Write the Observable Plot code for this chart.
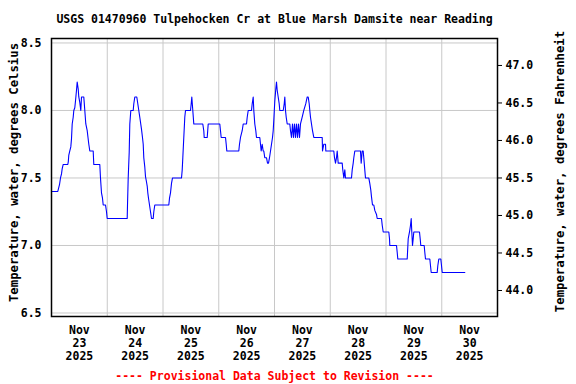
<!DOCTYPE html>
<html>
<head>
<meta charset="utf-8">
<script src="https://cdn.jsdelivr.net/npm/d3@7"></script>
<script src="https://cdn.jsdelivr.net/npm/@observablehq/plot@0.6"></script>
<style>
  html, body { margin: 0; padding: 0; background: white; }
</style>
</head>
<body>
<div id="chart"></div>
<script>
const titleText = "USGS 01470960 Tulpehocken Cr at Blue Marsh Damsite near Reading";
const footerText = "---- Provisional Data Subject to Revision ----";
const leftTitle = "Temperature, water, degrees Celsius";
const rightTitle = "Temperature, water, degrees Fahrenheit";

const tickMonth = "Nov";
const tickYear = "2025";
const tickDays = [23, 24, 25, 26, 27, 28, 29, 30];
const celsiusTicks = [6.5, 7.0, 7.5, 8.0, 8.5];
const fahrenheitTicks = [44.0, 44.5, 45.0, 45.5, 46.0, 46.5, 47.0];

// hours since 2025-11-23 00:00
const hours = [
  0, 2.71, 3.44, 3.87, 4.31, 4.61, 5.04, 7.02,
  7.23, 7.45, 7.88, 8.31, 8.61, 8.91, 9.34, 9.60,
  10.03, 10.33, 10.76, 11.06, 11.49, 11.75, 12.18, 12.61,
  12.92, 13.90, 14.08, 14.34, 14.77, 15.37, 16.06, 16.49,
  17.95, 18.21, 20.79, 21.09, 21.52, 21.95, 22.26, 23.25,
  23.68, 23.98, 32.59, 32.72, 33.02, 33.45, 33.71, 34.14,
  35.17, 35.43, 35.86, 36.72, 37.15, 37.58, 38.01, 38.75,
  39.17, 39.48, 39.73, 40.17, 40.47, 40.90, 41.20, 41.46,
  41.76, 42.19, 42.62, 43.05, 43.78, 44.04, 44.47, 50.50,
  50.80, 51.23, 51.66, 52.09, 55.97, 56.27, 56.53, 56.95,
  57.38, 57.69, 59.84, 60.14, 60.40, 60.83, 61.26, 65.13,
  65.56, 65.74, 67.03, 67.46, 72.45, 72.75, 73.05, 74.91,
  75.21, 75.47, 80.63, 80.93, 81.36, 82.09, 82.53, 83.95,
  84.25, 84.68, 86.10, 86.40, 86.83, 87.09, 87.52, 87.95,
  88.25, 89.67, 89.97, 90.27, 90.70, 91.13, 91.39, 91.82,
  92.55, 92.99, 93.42, 93.85, 94.28, 94.71, 95.14, 95.44,
  95.70, 96.13, 96.56, 96.86, 97.16, 97.59, 98.02, 98.28,
  99.75, 100.18, 100.44, 100.74, 101.04, 101.47, 102.59, 102.89,
  103.32, 103.75, 104.18, 104.61, 105.04, 105.47, 105.90, 106.33,
  106.76, 107.19, 107.92, 108.61, 109.47, 110.08, 110.51, 110.94,
  111.20, 111.50, 111.93, 112.36, 112.92, 116.54, 116.67, 117.23,
  117.96, 118.09, 121.53, 121.83, 122.26, 122.69, 122.99, 123.42,
  125.14, 125.40, 125.84, 126.27, 126.57, 129.15, 129.45, 129.88,
  130.14, 130.57, 133.02, 133.32, 133.75, 134.18, 134.44, 134.87,
  135.17, 136.59, 137.02, 137.46, 137.76, 138.19, 138.75, 139.18,
  139.91, 140.21, 142.06, 142.37, 142.80, 145.21, 145.51, 145.64,
  148.52, 148.82, 149.08, 153.13, 153.56, 154.12, 154.55, 154.85,
  155.11, 155.41, 155.71, 155.97, 158.42, 158.72, 158.98, 160.44,
  160.70, 161.00, 162.86, 163.16, 163.46, 166.04, 166.30, 166.73,
  167.59, 167.90, 168.20, 177.93
];

// water temperature, degrees Celsius
const tempC = [
  7.40, 7.40, 7.45, 7.50, 7.53, 7.57, 7.60, 7.60,
  7.62, 7.67, 7.70, 7.73, 7.79, 7.90, 7.95, 8.00,
  8.02, 8.07, 8.15, 8.21, 8.16, 8.10, 8.06, 8.00,
  8.10, 8.10, 8.06, 8.00, 7.90, 7.85, 7.75, 7.70,
  7.70, 7.60, 7.60, 7.50, 7.39, 7.35, 7.30, 7.30,
  7.25, 7.20, 7.20, 7.30, 7.50, 7.69, 7.90, 8.00,
  8.00, 8.05, 8.10, 8.10, 8.05, 8.00, 7.95, 7.86,
  7.80, 7.75, 7.65, 7.58, 7.51, 7.47, 7.44, 7.39,
  7.35, 7.30, 7.25, 7.20, 7.20, 7.25, 7.30, 7.30,
  7.35, 7.39, 7.46, 7.50, 7.50, 7.56, 7.65, 7.80,
  7.95, 8.00, 8.00, 8.05, 8.10, 8.00, 7.90, 7.90,
  7.85, 7.80, 7.80, 7.90, 7.90, 7.85, 7.80, 7.80,
  7.75, 7.70, 7.70, 7.75, 7.80, 7.85, 7.90, 7.90,
  7.95, 8.00, 8.00, 8.05, 8.10, 8.00, 7.90, 7.85,
  7.80, 7.80, 7.75, 7.70, 7.75, 7.70, 7.70, 7.65,
  7.65, 7.61, 7.61, 7.65, 7.70, 7.75, 7.80, 7.85,
  7.93, 8.07, 8.16, 8.21, 8.15, 8.10, 8.05, 8.00,
  8.00, 8.05, 8.10, 8.00, 7.95, 7.90, 7.90, 7.85,
  7.80, 7.90, 7.80, 7.90, 7.80, 7.90, 7.80, 7.90,
  7.80, 7.90, 7.95, 8.00, 8.05, 8.10, 8.10, 8.05,
  8.00, 7.95, 7.90, 7.85, 7.80, 7.80, 7.70, 7.75,
  7.75, 7.70, 7.70, 7.65, 7.61, 7.65, 7.70, 7.61,
  7.61, 7.56, 7.50, 7.56, 7.50, 7.50, 7.56, 7.61,
  7.65, 7.70, 7.70, 7.61, 7.70, 7.70, 7.65, 7.56,
  7.50, 7.50, 7.46, 7.41, 7.36, 7.30, 7.30, 7.26,
  7.23, 7.20, 7.20, 7.15, 7.10, 7.10, 7.05, 7.00,
  7.00, 6.95, 6.90, 6.90, 7.05, 7.10, 7.15, 7.20,
  7.10, 7.00, 7.05, 7.10, 7.10, 7.05, 7.00, 7.00,
  6.95, 6.90, 6.90, 6.85, 6.80, 6.80, 6.85, 6.90,
  6.90, 6.85, 6.80, 6.80
];

const start = Date.UTC(2025, 10, 23);
const HOUR = 3600 * 1000;
const series = hours.map((h, i) => ({date: new Date(start + h * HOUR), value: tempC[i]}));

const noonTicks = tickDays.map(d => new Date(Date.UTC(2025, 10, d, 12)));
const tickLabels = tickDays.map(d => `${tickMonth}\n${d}\n${tickYear}`);
const midnightGrid = tickDays.slice(1).map(d => new Date(Date.UTC(2025, 10, d)));
const fToC = f => (f - 32) / 1.8;

const font = "DejaVu Sans Mono";
const fs = 11.5;
const fsTitle = 12.3;

const chart = Plot.plot({
  width: 576,
  height: 384,
  marginLeft: 51,
  marginRight: 79,
  marginTop: 38,
  marginBottom: 68,
  style: {fontFamily: font, fontSize: fs + "px", fontWeight: "bold", background: "white", color: "black"},
  x: {type: "utc", domain: [new Date(start), new Date(Date.UTC(2025, 11, 1))], axis: null},
  y: {domain: [6.474, 8.533], axis: null},
  marks: [
    Plot.ruleX(midnightGrid, {stroke: "#c8c8c8", strokeWidth: 1}),
    Plot.ruleY(celsiusTicks, {stroke: "#c8c8c8", strokeWidth: 1}),
    Plot.line(series, {x: "date", y: "value", stroke: "#0000ff", strokeWidth: 1.1}),
    Plot.frame({stroke: "black", strokeWidth: 1.5}),
    Plot.axisY({anchor: "left", ticks: celsiusTicks, tickFormat: d => d.toFixed(1), tickSize: 0, tickPadding: 10, fontSize: fs, fontWeight: "bold", label: null}),
    Plot.axisY({anchor: "right", ticks: fahrenheitTicks.map(fToC), tickFormat: c => (c * 1.8 + 32).toFixed(1), tickSize: 4, tickPadding: 4, fontSize: fs, fontWeight: "bold", label: null, stroke: "black"}),
    Plot.text(noonTicks, {x: d => d, text: (d, i) => tickLabels[i], frameAnchor: "bottom", lineAnchor: "top", dy: 8, lineHeight: 1.13, fontSize: fs, fontWeight: "bold", fill: "black"}),
    Plot.text([titleText], {text: d => d, frameAnchor: "top", lineAnchor: "middle", dy: -19, fontSize: fs, fontWeight: "bold", fill: "black"}),
    Plot.text([footerText], {text: d => d, frameAnchor: "bottom", lineAnchor: "middle", dy: 60, fontSize: fs, fontWeight: "bold", fill: "#ff0000"}),
    Plot.text([leftTitle], {text: d => d, frameAnchor: "left", rotate: -90, dx: -37, dy: -5, lineAnchor: "middle", textAnchor: "middle", fontSize: fsTitle, fontWeight: "bold", fill: "black"}),
    Plot.text([rightTitle], {text: d => d, frameAnchor: "right", rotate: -90, dx: 63, dy: -6, lineAnchor: "middle", textAnchor: "middle", fontSize: fsTitle, fontWeight: "bold", fill: "black"})
  ]
});
document.getElementById("chart").appendChild(chart);
</script>
</body>
</html>
